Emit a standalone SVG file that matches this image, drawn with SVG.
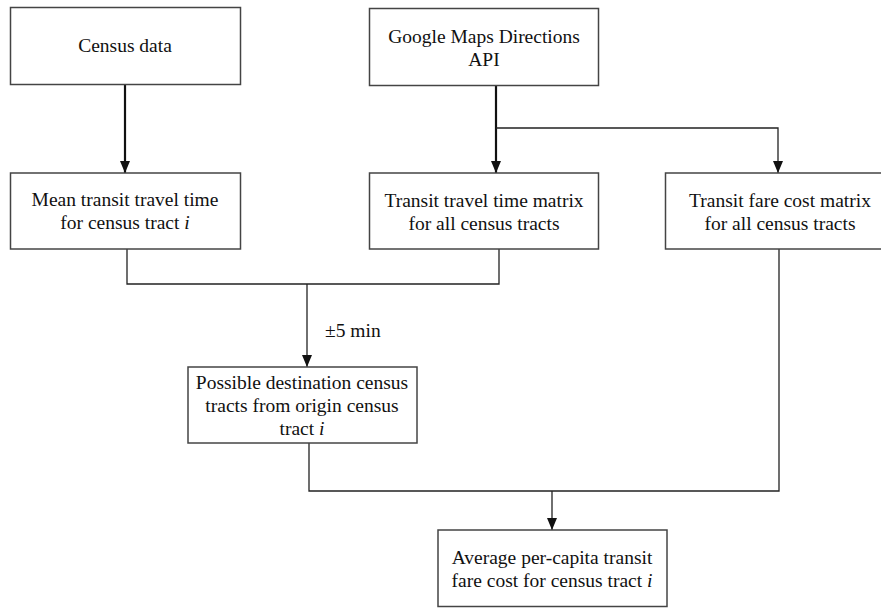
<svg xmlns="http://www.w3.org/2000/svg" width="881" height="608" viewBox="0 0 881 608">
<style>
.box{fill:#fff;stroke:#444;stroke-width:1.5}
text{font-family:'Liberation Serif','Times New Roman',Times,serif;font-size:19.5px;fill:#111}
.t{text-anchor:middle}
.thick{stroke:#111;stroke-width:2.2;fill:none}
.thin{stroke:#222;stroke-width:1.3;fill:none}
</style>
<defs>
<marker id="ah" viewBox="0 0 12 10" refX="12" refY="5" markerWidth="12" markerHeight="10" markerUnits="userSpaceOnUse" orient="auto">
<path d="M0,0 L12,5 L0,10 Z" fill="#111"/>
</marker>
</defs>
<rect width="881" height="608" fill="#fff"/>
<g id="connectors">
<path class="thick" d="M125,84 V173" marker-end="url(#ah)"/>
<path class="thick" d="M496,86 V173" marker-end="url(#ah)"/>
<path class="thin" d="M496,128 H778 V173" marker-end="url(#ah)"/>
<path class="thin" d="M127,249 V284 H499 V249"/>
<path class="thin" d="M307,284 V367" marker-end="url(#ah)"/>
<path class="thin" d="M309,443 V491 H779 V249"/>
<path class="thin" d="M552,491 V530" marker-end="url(#ah)"/>
<text x="325" y="337">±5 min</text>
</g>
<g id="census">
<rect class="box" x="10.5" y="7.5" width="230" height="77"/>
<text class="t" x="125" y="52">Census data</text>
</g>
<g id="google">
<rect class="box" x="369.5" y="8.5" width="229" height="77"/>
<text class="t" x="484" y="43">Google Maps Directions</text>
<text class="t" x="484" y="66">API</text>
</g>
<g id="mean">
<rect class="box" x="10.5" y="173" width="230" height="76"/>
<text class="t" x="125" y="206">Mean transit travel time</text>
<text class="t" x="125" y="229">for census tract <tspan font-style="italic">i</tspan></text>
</g>
<g id="timematrix">
<rect class="box" x="369.5" y="173" width="229" height="76"/>
<text class="t" x="484" y="207">Transit travel time matrix</text>
<text class="t" x="484" y="230">for all census tracts</text>
</g>
<g id="farematrix">
<rect class="box" x="665.5" y="173" width="229" height="76"/>
<text class="t" x="780" y="207">Transit fare cost matrix</text>
<text class="t" x="780" y="230">for all census tracts</text>
</g>
<g id="possible">
<rect class="box" x="188" y="367" width="229" height="76"/>
<text class="t" x="302" y="389">Possible destination census</text>
<text class="t" x="302" y="412">tracts from origin census</text>
<text class="t" x="302" y="435">tract <tspan font-style="italic">i</tspan></text>
</g>
<g id="average">
<rect class="box" x="438" y="530" width="229" height="76.5"/>
<text class="t" x="552" y="564">Average per-capita transit</text>
<text class="t" x="552" y="587">fare cost for census tract <tspan font-style="italic">i</tspan></text>
</g>
</svg>
